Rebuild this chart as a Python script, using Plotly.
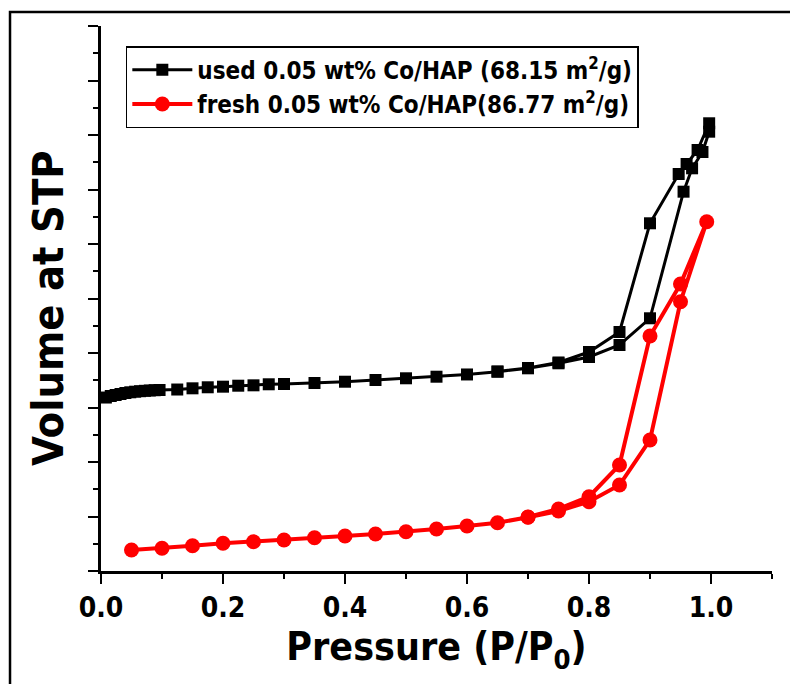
import plotly.graph_objects as go

# used sample: adsorption then desorption branch (arbitrary volume units)
used_x = [0.008, 0.016, 0.024, 0.032, 0.04, 0.048, 0.056, 0.064, 0.072, 0.08, 0.088, 0.096,
          0.125, 0.15, 0.175, 0.2, 0.225, 0.25, 0.275, 0.3, 0.35, 0.4, 0.45, 0.5, 0.55, 0.6,
          0.65, 0.7, 0.75, 0.8, 0.85, 0.9, 0.955, 0.969, 0.986, 0.997,
          0.997, 0.978, 0.96, 0.947, 0.9, 0.85, 0.8, 0.75, 0.7, 0.65]
used_y = [3.183, 3.211, 3.229, 3.248, 3.266, 3.279, 3.290, 3.299, 3.306, 3.312, 3.317, 3.321,
          3.330, 3.352, 3.371, 3.382, 3.400, 3.407, 3.426, 3.431, 3.450, 3.473, 3.505, 3.536, 3.565, 3.606,
          3.657, 3.719, 3.811, 3.927, 4.147, 4.637, 6.960, 7.389, 7.688, 8.061,
          8.215, 7.725, 7.468, 7.284, 6.380, 4.385, 4.018, 3.826, 3.725, 3.661]

# fresh sample: adsorption then desorption branch
fresh_x = [0.05, 0.1, 0.15, 0.2, 0.25, 0.3, 0.35, 0.4, 0.45, 0.5, 0.55, 0.6, 0.65, 0.7, 0.75,
           0.8, 0.85, 0.9, 0.95, 0.993,
           0.95, 0.9, 0.85, 0.8, 0.75, 0.7]
fresh_y = [0.385, 0.417, 0.464, 0.508, 0.538, 0.569, 0.611, 0.642, 0.679, 0.721, 0.771, 0.826, 0.886, 0.985, 1.101,
           1.272, 1.578, 2.404, 4.941, 6.409,
           5.266, 4.312, 1.945, 1.363, 1.138, 0.991]

x_tickvals = [0.0, 0.2, 0.4, 0.6, 0.8, 1.0]
x_ticktext = ["0.0", "0.2", "0.4", "0.6", "0.8", "1.0"]

FONT = "DejaVu Sans Condensed, Liberation Sans, Arial, sans-serif"

fig = go.Figure()
fig.add_trace(go.Scatter(
    x=used_x, y=used_y, mode="lines+markers",
    name="used 0.05 wt% Co/HAP (68.15 m<sup>2</sup>/g)",
    line=dict(color="black", width=3),
    marker=dict(symbol="square", size=12, color="black"),
))
fig.add_trace(go.Scatter(
    x=fresh_x, y=fresh_y, mode="lines+markers",
    name="fresh 0.05 wt% Co/HAP(86.77 m<sup>2</sup>/g)",
    line=dict(color="#ff0000", width=4),
    marker=dict(symbol="circle", size=15, color="#ff0000"),
))

fig.update_layout(
    width=790, height=684,
    margin=dict(l=101, r=18, t=26, b=113),
    paper_bgcolor="white", plot_bgcolor="white",
    font=dict(family=FONT, color="black"),
    showlegend=True,
    legend=dict(
        x=0.037, y=0.963, xanchor="left", yanchor="top",
        bordercolor="black", borderwidth=1.5, bgcolor="white",
        font=dict(family=FONT, size=24, weight=700, color="black"),
        itemwidth=60,
    ),
    xaxis=dict(
        range=[0, 1.1], showgrid=False, zeroline=False, automargin=False,
        showline=True, linecolor="black", linewidth=2.5,
        ticks="outside", ticklen=10, tickwidth=2, tickcolor="black",
        tickvals=x_tickvals, ticktext=x_ticktext,
        tickfont=dict(family=FONT, size=28, weight=700),
        minor=dict(ticks="outside", ticklen=5, tickwidth=2, dtick=0.1, tick0=0, tickcolor="black"),
        title=dict(text="Pressure (P/P<sub>0</sub>)", font=dict(family=FONT, size=39, weight=700), standoff=10),
    ),
    yaxis=dict(
        range=[0, 10], showgrid=False, zeroline=False, automargin=False,
        showline=True, linecolor="black", linewidth=2.5,
        ticks="outside", ticklen=10, tickwidth=2, tickcolor="black",
        dtick=1, tick0=0, showticklabels=False,
        minor=dict(ticks="outside", ticklen=5, tickwidth=2, dtick=0.5, tick0=0, tickcolor="black"),
    ),
    annotations=[dict(text="Volume at STP", textangle=-90, showarrow=False,
                      xref="paper", yref="paper", x=-0.079, y=0.4826,
                      xanchor="center", yanchor="middle",
                      font=dict(family=FONT, size=43, weight=700, color="black"))],
    shapes=[dict(type="rect", xref="paper", yref="paper",
                 x0=-0.1356, x1=1.2, y0=-0.4, y1=1.0257,
                 line=dict(color="black", width=2.5), fillcolor="rgba(0,0,0,0)", layer="below")],
)

fig.write_html("out.html", config={"displayModeBar": False},
               post_script="document.body.style.margin='0px';")
